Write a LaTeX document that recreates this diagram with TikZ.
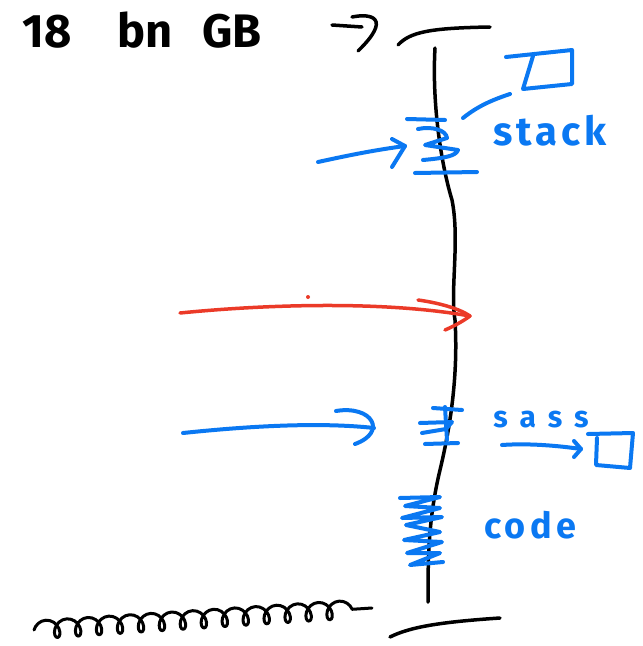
\documentclass[tikz,border=0pt]{standalone}
\usepackage{fontspec}
\setmainfont{Fira Sans}
\usetikzlibrary{decorations.pathmorphing}
\definecolor{ink}{HTML}{0A78F2}
\definecolor{redink}{HTML}{EB3A28}
\begin{document}
\begin{tikzpicture}[x=1pt,y=-1pt, line cap=round, line join=round,
  pen/.style={black, line width=3.5pt},
  bluepen/.style={ink, line width=4pt},
  redpen/.style={redink, line width=3.5pt},
  note/.style={ink, inner sep=0pt, anchor=base},
  bignote/.style={note, font=\fontsize{40}{40}\selectfont\bfseries\addfontfeature{LetterSpace=10}},
  smallnote/.style={note, font=\fontsize{30}{30}\selectfont\bfseries\addfontfeature{LetterSpace=40}}]
\useasboundingbox[fill=white] (0,0) rectangle (643,646);

% size caption and its bent arrow
\node[anchor=base west, inner sep=0pt, font=\fontsize{47}{47}\selectfont\bfseries] (size) at (22,47)
  {18\hspace{46pt}bn\hspace{30pt}GB};
\draw[pen] (332,25) -- (362,27);
\draw[pen] (352,17) .. controls (372,13) and (392,18) .. (358,51);

% address space: wavy spine with top and bottom bars
\coordinate (top) at (435,48);
\coordinate (bot) at (428,602);
\draw[pen] (top) .. controls (432,100) and (440,160) .. (452,200)
  .. controls (460,240) and (450,290) .. (455,320)
  .. controls (458,370) and (452,420) .. (440,470)
  .. controls (428,520) and (428,560) .. (bot);
\draw[pen] (398,45) .. controls (410,32) and (430,28) .. (490,27);
\draw[pen] (390,637) .. controls (410,627) and (440,622) .. (500,618);

% scribbled run at the bottom
\draw[pen, line width=3pt, decorate,
  decoration={coil, amplitude=9pt, segment length=21pt, aspect=0.8}]
  (34,630) -- (372,608);

% stack region
\draw[bluepen] (407,119) -- (445,120);
\draw[bluepen] (418,129) .. controls (432,126) and (446,130) .. (447,138)
  -- (425,145) -- (458,150) .. controls (456,156) and (445,158) .. (423,160);
\draw[bluepen] (415,173) -- (477,172);
\node[bignote] (stack) at (550,145) {stack};
\draw[bluepen] (506,57) -- (572,50) -- (572,84) -- (523,89) -- (533,56);
\draw[bluepen] (463,118) .. controls (478,106) and (492,100) .. (510,94);
\coordinate (stackin) at (405,146);
\draw[bluepen] (318,162) .. controls (350,155) and (375,150) .. (stackin);
\draw[bluepen] (392,139) -- (stackin) -- (392,167);

% red arrow into the gap
\fill[redink] (308,297) circle (2);
\coordinate (redtip) at (470,316);
\draw[redpen] (180,313) .. controls (260,305) and (380,300) .. (redtip);
\draw[redpen] (418,300) .. controls (440,303) and (460,309) .. (redtip)
  .. controls (462,322) and (452,327) .. (445,330);

% sass region
\draw[bluepen] (433,408) -- (462,410);
\draw[bluepen] (420,423) -- (452,422) -- (446,429) -- (422,433);
\draw[bluepen] (425,444) -- (458,443);
\draw[bluepen] (445,407) -- (447,440);
\coordinate (sassin) at (374,428);
\draw[bluepen] (183,433) .. controls (250,426) and (320,422) .. (sassin);
\draw[bluepen] (336,411) .. controls (372,405) and (388,432) .. (355,444);
\node[smallnote] (sass) at (541,427) {sass};
\coordinate (sasstip) at (581,449);
\draw[bluepen] (502,445) .. controls (530,443) and (560,446) .. (sasstip);
\draw[bluepen] (574,441) -- (sasstip) -- (574,457);
\draw[bluepen] (588,434) -- (633,433) -- (630,468) -- (596,465) -- (597,438);

% code region
\draw[bluepen] (400,498) -- (440,497) -- (405,506) -- (440,508) -- (402,518)
  -- (442,517) -- (406,525) -- (440,532) -- (404,540) -- (442,542)
  -- (407,553) -- (440,553) -- (410,565) -- (443,562);
\node[note, font=\fontsize{36}{36}\selectfont\bfseries\addfontfeature{LetterSpace=12}] (code) at (530,538) {code};
\end{tikzpicture}
\end{document}
